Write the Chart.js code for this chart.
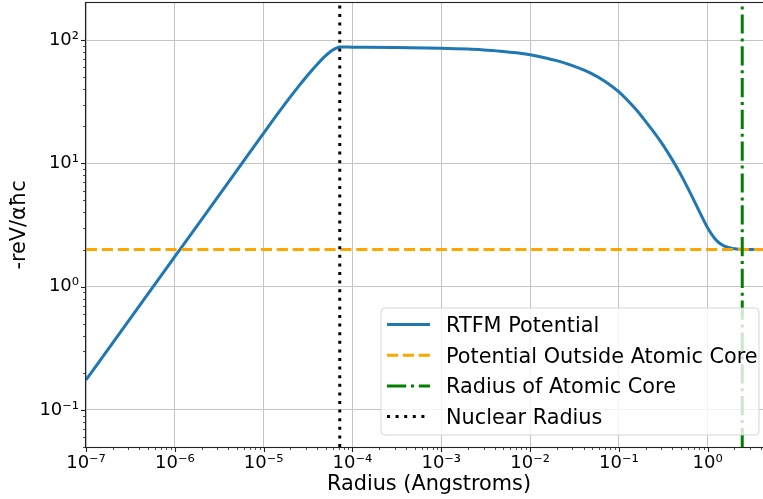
<!DOCTYPE html>
<html>
<head>
<meta charset="utf-8">
<script src="https://cdn.jsdelivr.net/npm/chart.js@4.4.0/dist/chart.umd.min.js"></script>
<style>
html,body{margin:0;padding:0;background:#fff;overflow:hidden;width:763px;height:499px;}
#wrap{position:relative;width:763px;height:499px;overflow:hidden;}
canvas{display:block;}
</style>
</head>
<body>
<div id="wrap"><canvas id="c" width="772" height="499"></canvas></div>
<script>
// ---- data ----
const radiusAngstrom = [1e-7, 3e-7, 1e-6, 3e-6, 1e-5, 1.5e-5, 2e-5, 2.5e-5, 3e-5, 3.5e-5, 4e-5, 4.5e-5,
  5e-5, 5.5e-5, 6e-5, 6.5e-5, 7.2e-5, 1e-4, 3e-4, 1e-3, 2e-3, 3e-3, 5e-3, 7e-3,
  1e-2, 1.5e-2, 2e-2, 3e-2, 4e-2, 5e-2, 7e-2, 0.1, 0.15, 0.2, 0.3, 0.4, 0.5, 0.6, 0.7, 0.8, 0.9,
  1.0, 1.2, 1.4, 1.7, 2.0, 2.45, 5.3];
const rtfmPotential = [0.175, 0.525, 1.75, 5.25, 17.6, 26.3, 34.6, 42.5, 50, 57, 63.5, 69.5,
  74.8, 79.3, 83, 85.7, 87.8, 87.7, 87.3, 86.0, 84.5, 83.1, 81.0, 78.9,
  76.0, 71.7, 68.1, 62.1, 57.3, 53.2, 46.2, 38.0, 28.2, 21.9, 14.8, 10.67, 8.07, 6.27, 5.01, 4.12, 3.46,
  2.99, 2.46, 2.22, 2.08, 2.03, 2.0, 2.0];
const outsideRadius = [1e-7, 5.3];
const outsidePotential = [2, 2];
const coreRadius = 2.45;
const nuclearRadius = 7.2e-5;
const xLimits = [1e-7, 5.3];
const yLimits = [0.05, 200];
const xTickExponents = [-7, -6, -5, -4, -3, -2, -1, 0];
const yTickExponents = [-1, 0, 1, 2];
const seriesLabels = ['RTFM Potential', 'Potential Outside Atomic Core', 'Radius of Atomic Core', 'Nuclear Radius'];
const xAxisTitle = 'Radius (Angstroms)';
const yAxisTitle = '-reV/αħc';

// ---- helpers ----
const FAMILY = "'DejaVu Sans', sans-serif";
const SUP = {'0':'⁰','1':'¹','2':'²','3':'³','4':'⁴','5':'⁵','6':'⁶','7':'⁷','8':'⁸','9':'⁹','-':'⁻'};
function powLabel(v) {
  const e = Math.round(Math.log10(v));
  return '10' + String(e).split('').map(c => SUP[c]).join('');
}

const decorPlugin = {
  id: 'decor',
  afterDatasetsDraw(chart) {
    const ctx = chart.ctx, ca = chart.chartArea;
    const xs = chart.scales.x, ys = chart.scales.y;
    ctx.save();
    ctx.strokeStyle = '#222';
    ctx.lineWidth = 1.1;
    xTickExponents.forEach(e => {
      const p = Math.round(xs.getPixelForValue(Math.pow(10, e))) + 0.5;
      ctx.beginPath(); ctx.moveTo(p, ca.bottom); ctx.lineTo(p, ca.bottom + 5); ctx.stroke();
    });
    yTickExponents.forEach(e => {
      const p = Math.round(ys.getPixelForValue(Math.pow(10, e))) + 0.5;
      ctx.beginPath(); ctx.moveTo(ca.left, p); ctx.lineTo(ca.left - 5, p); ctx.stroke();
    });
    ctx.lineWidth = 0.8;
    for (let e = -8; e <= 1; e++) {
      for (let m = 2; m <= 9; m++) {
        const v = m * Math.pow(10, e);
        if (v >= xLimits[0] && v <= xLimits[1]) {
          const p = Math.round(xs.getPixelForValue(v)) + 0.5;
          ctx.beginPath(); ctx.moveTo(p, ca.bottom); ctx.lineTo(p, ca.bottom + 3); ctx.stroke();
        }
        if (v >= yLimits[0] && v <= yLimits[1]) {
          const p = Math.round(ys.getPixelForValue(v)) + 0.5;
          ctx.beginPath(); ctx.moveTo(ca.left, p); ctx.lineTo(ca.left - 3, p); ctx.stroke();
        }
      }
    }
    ctx.lineWidth = 1.1;
    ctx.strokeRect(Math.round(ca.left) - 0.5, Math.round(ca.top) - 0.5,
                   Math.round(ca.right - ca.left) + 1, Math.round(ca.bottom - ca.top) + 1);
    ctx.restore();
  },
  afterDraw(chart) {
    const ctx = chart.ctx, ca = chart.chartArea;
    const fs = 20.8;
    const right = ca.right - 13, bottom = ca.bottom - 12;
    const w = 378, h = 127;
    const left = right - w, top = bottom - h;
    const r = 4;
    ctx.save();
    ctx.beginPath();
    ctx.moveTo(left + r, top);
    ctx.lineTo(right - r, top); ctx.arcTo(right, top, right, top + r, r);
    ctx.lineTo(right, bottom - r); ctx.arcTo(right, bottom, right - r, bottom, r);
    ctx.lineTo(left + r, bottom); ctx.arcTo(left, bottom, left, bottom - r, r);
    ctx.lineTo(left, top + r); ctx.arcTo(left, top, left + r, top, r);
    ctx.closePath();
    ctx.fillStyle = 'rgba(255,255,255,0.8)';
    ctx.fill();
    ctx.strokeStyle = 'rgba(204,204,204,0.8)';
    ctx.lineWidth = 1;
    ctx.stroke();
    ctx.font = fs + 'px ' + FAMILY;
    ctx.textBaseline = 'alphabetic';
    ctx.textAlign = 'left';
    chart.data.datasets.forEach((ds, i) => {
      const cy = top + 16.5 + i * 30.7;
      ctx.save();
      ctx.strokeStyle = ds.borderColor;
      ctx.lineWidth = ds.borderWidth;
      ctx.setLineDash(ds.borderDash || []);
      ctx.lineCap = 'butt';
      ctx.beginPath();
      ctx.moveTo(left + 6, cy); ctx.lineTo(left + 49, cy);
      ctx.stroke();
      ctx.restore();
      ctx.fillStyle = '#000';
      ctx.fillText(ds.label, left + 65, cy + 0.365 * fs);
    });
    ctx.restore();
  }
};

const ctx = document.getElementById('c').getContext('2d');
new Chart(ctx, {
  type: 'line',
  data: {
    datasets: [
      { label: seriesLabels[0],
        data: radiusAngstrom.map((r, i) => ({ x: r, y: rtfmPotential[i] })),
        borderColor: '#1f77b4', borderWidth: 3, cubicInterpolationMode: 'monotone', order: 4, clip: 0 },
      { label: seriesLabels[1],
        data: outsideRadius.map((r, i) => ({ x: r, y: outsidePotential[i] })),
        borderColor: '#ffa500', borderWidth: 3, borderDash: [11.1, 4.8], order: 3, clip: 0 },
      { label: seriesLabels[2],
        data: [{ x: coreRadius, y: yLimits[0] }, { x: coreRadius, y: yLimits[1] }],
        borderColor: '#008000', borderWidth: 3, borderDash: [19.2, 4.8, 3, 4.8], order: 2, clip: 0 },
      { label: seriesLabels[3],
        data: [{ x: nuclearRadius, y: yLimits[0] }, { x: nuclearRadius, y: yLimits[1] }],
        borderColor: '#000000', borderWidth: 3, borderDash: [3, 5.6], order: 1, clip: 0 }
    ]
  },
  options: {
    responsive: false,
    animation: false,
    devicePixelRatio: 1,
    elements: { point: { radius: 0 }, line: { tension: 0, fill: false } },
    layout: { padding: { left: 0, right: 0, top: 3, bottom: 0 } },
    plugins: { legend: { display: false }, tooltip: { enabled: false } },
    scales: {
      x: {
        type: 'logarithmic', position: 'bottom',
        min: xLimits[0], max: xLimits[1],
        afterBuildTicks: s => { s.ticks = xTickExponents.map(e => ({ value: Math.pow(10, e) })); },
        afterFit: s => { s.height = 52; s.paddingLeft = 0; s.paddingRight = 0; },
        ticks: { callback: v => powLabel(v), font: { family: FAMILY, size: 18 }, color: '#000',
                 padding: 6, maxRotation: 0, autoSkip: false },
        grid: { color: '#c4c4c4', lineWidth: 1, drawTicks: false },
        border: { display: false },
        title: { display: true, text: xAxisTitle, font: { family: FAMILY, size: 20.8 }, color: '#000',
                 padding: { top: 0, bottom: 2 } }
      },
      y: {
        type: 'logarithmic', position: 'left',
        min: yLimits[0], max: yLimits[1],
        afterBuildTicks: s => { s.ticks = yTickExponents.map(e => ({ value: Math.pow(10, e) })); },
        afterFit: s => { s.width = 86; s.paddingTop = 0; s.paddingBottom = 0; },
        ticks: { callback: v => powLabel(v), font: { family: FAMILY, size: 18 }, color: '#000',
                 padding: 7, autoSkip: false },
        grid: { color: '#c4c4c4', lineWidth: 1, drawTicks: false },
        border: { display: false },
        title: { display: true, text: yAxisTitle, font: { family: FAMILY, size: 20.8 }, color: '#000',
                 padding: { top: 6.8, bottom: 0 } }
      }
    }
  },
  plugins: [decorPlugin]
});
</script>
</body>
</html>
